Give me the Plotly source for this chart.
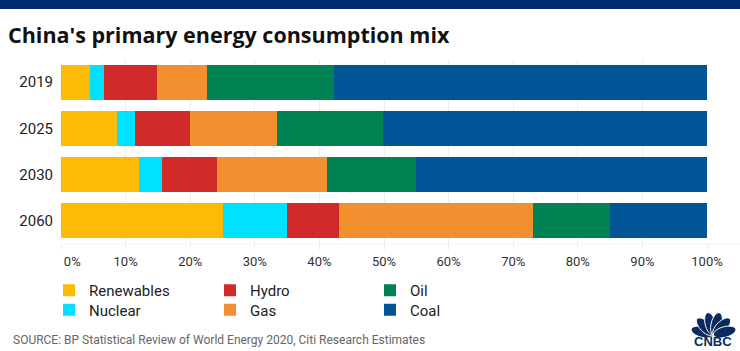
import numpy as np
import plotly.graph_objects as go

# ---------------- data ----------------
years = ["2019", "2025", "2030", "2060"]
renewables = [4.5, 8.6, 12.0, 25.0]
nuclear = [2.2, 2.9, 3.7, 10.0]
hydro = [8.1, 8.5, 8.4, 8.0]
gas = [7.8, 13.4, 17.0, 30.0]
oil = [19.7, 16.5, 13.8, 12.0]
coal = [57.7, 50.1, 45.1, 15.0]

series_names = ["Renewables", "Nuclear", "Hydro", "Gas", "Oil", "Coal"]
series_values = [renewables, nuclear, hydro, gas, oil, coal]
series_colors = ["#FDBA06", "#00E1FF", "#D02B2A", "#F28F2E", "#008253", "#005596"]

tick_vals = [0, 10, 20, 30, 40, 50, 60, 70, 80, 90, 100]
tick_text = ["\u00a0" * 7 + "0%"] + [f"{v}%" for v in tick_vals[1:]]

title_text = "China's primary energy consumption mix"
source_text = "SOURCE: BP Statistical Review of World Energy 2020, Citi Research Estimates"

# ---------------- layout geometry (pixels) ----------------
W, H = 740, 351
ML, MR, MT, MB = 61, 33, 59, 107
PW, PH = W - ML - MR, H - MT - MB


def px_x(x):
    return (x - ML) / PW


def px_y(y):
    return (H - MB - y) / PH


NAVY = "#002D6E"
LOGO = "#0B2A5E"

# legend grid: column x (px) and row top (px) for each series
leg_cols = [49, 49, 210, 210, 370, 370]
leg_rows = [274, 293.5, 274, 293.5, 274, 293.5]

fig = go.Figure()
legend_layout = {}
for i, (name, vals, col) in enumerate(zip(series_names, series_values, series_colors)):
    lname = "legend" if i == 0 else f"legend{i + 1}"
    fig.add_trace(go.Bar(
        y=years, x=vals, name=name, orientation="h",
        marker=dict(color=col, line=dict(width=0)),
        legend=lname,
        hoverinfo="skip",
    ))
    legend_layout[lname] = dict(
        orientation="v", xref="paper", yref="paper", yanchor="top", xanchor="left",
        x=px_x(leg_cols[i]), y=px_y(leg_rows[i]),
        font=dict(family="Roboto", size=15, color="#222222"),
        bgcolor="rgba(0,0,0,0)", borderwidth=0,
    )

fig.update_layout(
    width=W, height=H,
    margin=dict(l=ML, r=MR, t=MT, b=MB, pad=0),
    paper_bgcolor="white", plot_bgcolor="white",
    barmode="stack", bargap=0.24,
    showlegend=True,
    title=dict(
        text=title_text, xref="container", yref="container",
        x=8 / W, xanchor="left", y=1 - 35 / H, yanchor="middle",
        font=dict(family="Open Sans", size=21.5, color="#111111", weight="bold"),
    ),
    xaxis=dict(
        range=[0, 100], tickvals=tick_vals, ticktext=tick_text,
        showgrid=True, gridcolor="#EEEEEE", gridwidth=1,
        zeroline=False, showline=False,
        ticks="outside", ticklen=5, tickcolor="#EEEEEE", tickwidth=1,
        tickfont=dict(family="Roboto", size=13, color="#333333"),
        fixedrange=True,
    ),
    yaxis=dict(
        categoryorder="array", categoryarray=years, autorange="reversed",
        showgrid=False, zeroline=False, showline=False,
        ticks="", ticklabelstandoff=7,
        tickfont=dict(family="Roboto", size=15, color="#222222"),
        fixedrange=True,
    ),
    **legend_layout,
)

# top banner
fig.add_shape(type="rect", xref="paper", yref="paper",
              x0=px_x(0), x1=px_x(W), y0=px_y(9), y1=px_y(0),
              fillcolor=NAVY, line=dict(width=0), layer="above")

# faint baseline
fig.add_shape(type="line", xref="paper", yref="paper",
              x0=px_x(ML), x1=px_x(W), y0=px_y(244), y1=px_y(244),
              line=dict(color="#F2F2F2", width=1))

# source
fig.add_annotation(text=source_text, xref="paper", yref="paper",
                   x=px_x(11), y=px_y(340), xanchor="left", yanchor="middle",
                   showarrow=False,
                   font=dict(family="Roboto", size=12, color="#666666"))

# CNBC peacock logo (decoration)
bx, by = 713.5, 335
R = 23
angles = [-75, -45, -15, 15, 45, 75]
for a in angles:
    t = np.linspace(0, 2 * np.pi, 40)
    ex = 0.23 * R * np.sin(t)
    ey = R / 2 - (R / 2) * np.cos(t)
    ang = np.deg2rad(a)
    rx = ex * np.cos(ang) + ey * np.sin(ang)
    ry = -ex * np.sin(ang) + ey * np.cos(ang)
    path = "M " + " L ".join(f"{x:.2f},{y:.2f}" for x, y in zip(rx, ry)) + " Z"
    fig.add_shape(type="path", path=path,
                  xref="paper", yref="paper",
                  xsizemode="pixel", ysizemode="pixel",
                  xanchor=px_x(bx), yanchor=px_y(by),
                  fillcolor=LOGO, line=dict(color="white", width=1))

fig.add_annotation(text="<b>CNBC</b>", xref="paper", yref="paper",
                   x=px_x(bx), y=px_y(341), xanchor="center", yanchor="middle",
                   showarrow=False,
                   font=dict(family="Liberation Sans", size=13, color=LOGO))

fig.write_html("out.html")
